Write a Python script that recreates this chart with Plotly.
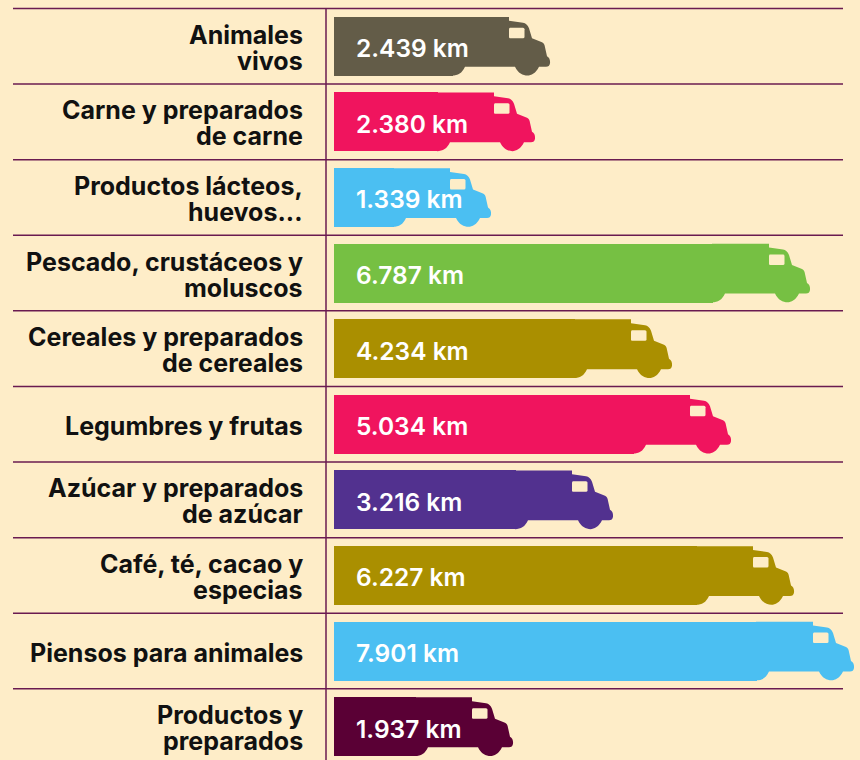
import plotly.graph_objects as go

label_lines = [
    ["Animales", "vivos"],
    ["Carne y preparados", "de carne"],
    ["Productos lácteos,", "huevos..."],
    ["Pescado, crustáceos y", "moluscos"],
    ["Cereales y preparados", "de cereales"],
    ["Legumbres y frutas"],
    ["Azúcar y preparados", "de azúcar"],
    ["Café, té, cacao y", "especias"],
    ["Piensos para animales"],
    ["Productos y", "preparados"],
]
km_labels = ["2.439 km", "2.380 km", "1.339 km", "6.787 km", "4.234 km",
             "5.034 km", "3.216 km", "6.227 km", "7.901 km", "1.937 km"]
# Length of each truck's load as drawn in the picture (the drawing is not strictly to km scale)
drawn_load = [119, 104, 60, 379, 241, 300, 182, 363, 423, 82]
colors = ["#635C48", "#F0145E", "#4BBFF2", "#76C043", "#AA8F00",
          "#F0145E", "#52318F", "#AA8F00", "#4BBFF2", "#5A0035"]

BG = "#FEEDC8"
RULE = "#6A1B50"
FONT = "Inter"
idx = list(range(len(km_labels)))
X_SPAN = 526  # 1 axis unit = 1 px


def path(cmds):
    out = []
    for c in cmds:
        op, pts = c[0], c[1:]
        out.append(op + " ".join(f"{x},{-y}" for x, y in pts))
    return " ".join(out) + " Z"


T = -29.3
B = 29.3
cab = path([
    ("M", (-1, T)), ("L", (56, T)), ("L", (56, -25.5)), ("L", (70, -23.5)),
    ("Q", (74, -23), (76, -18)), ("L", (79, -8)), ("L", (89, -4)),
    ("Q", (91.5, -3), (92, 1)), ("L", (94, 10)), ("Q", (97.5, 12), (97, 17)),
    ("Q", (96.5, 20.5), (93, 20.5)), ("L", (86, 20.5)),
    ("C", (83, 27), (78, B), (74.5, B)), ("C", (70, B), (65, 27), (62, 20.5)),
    ("L", (12, 20.5)), ("C", (9, 27), (5, B), (-1, B)),
])
window = path([
    ("M", (57, -18.5)), ("L", (70, -18.5)), ("Q", (71.5, -18.5), (71.5, -17)),
    ("L", (71.5, -9.5)), ("Q", (71.5, -8), (70, -8)), ("L", (57, -8)),
    ("Q", (56, -8), (56, -9.5)), ("L", (56, -17)), ("Q", (56, -18.5), (57, -18.5)),
])

fig = go.Figure(go.Bar(
    x=drawn_load, y=idx, orientation="h", width=59 / 75.6,
    marker=dict(color=colors, line_width=0), customdata=km_labels,
    hovertemplate="%{customdata}<extra></extra>", showlegend=False,
))

shapes = []
for rule_row in idx:
    shapes.append(dict(type="line", xref="paper", yref="y", x0=-321 / X_SPAN, x1=509 / X_SPAN,
                       y0=rule_row - 0.5, y1=rule_row - 0.5, line=dict(color=RULE, width=1.5), layer="above"))
shapes.append(dict(type="line", xref="paper", yref="paper", x0=-8 / X_SPAN, x1=-8 / X_SPAN,
                   y0=0, y1=1 - 8.5 / 760, line=dict(color=RULE, width=1.5), layer="above"))
for i, (load, col) in enumerate(zip(drawn_load, colors)):
    for p, c in ((cab, col), (window, BG)):
        shapes.append(dict(type="path", xref="x", yref="y", xsizemode="pixel", ysizemode="pixel",
                           xanchor=load, yanchor=i, path=p, fillcolor=c, line_width=0, layer="above"))

annotations = []
for i, lines in enumerate(label_lines):
    offs = [-1.5] if len(lines) == 1 else [11.5, -14.5]
    for line, off in zip(lines, offs):
        annotations.append(dict(text=line, xref="paper", yref="y", x=-29 / X_SPAN, y=i, xanchor="right",
                                yanchor="middle", yshift=off, showarrow=False,
                                font=dict(family=FONT, size=25, color="#111111", weight=700)))
for i, t in enumerate(km_labels):
    annotations.append(dict(text=t, xref="x", yref="y", x=0, y=i, xshift=20, yshift=-2, xanchor="left",
                            yanchor="middle", showarrow=False,
                            font=dict(family=FONT, size=24.5, color="#FFFFFF", weight=600)))

fig.update_layout(
    width=860, height=760, margin=dict(l=334, r=0, t=0, b=0), autosize=False,
    paper_bgcolor=BG, plot_bgcolor=BG, shapes=shapes, annotations=annotations,
    xaxis=dict(range=[0, X_SPAN], visible=False, fixedrange=True),
    yaxis=dict(range=[9.441, -0.612], visible=False, fixedrange=True),
    bargap=0,
)
fig.write_html("out.html", config={"displayModeBar": False},
               post_script=f"document.body.style.margin='0';document.body.style.background='{BG}';document.body.style.overflow='hidden';")
